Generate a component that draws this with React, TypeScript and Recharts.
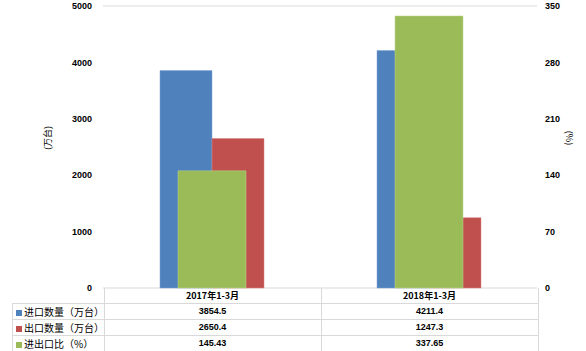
import React from "react";
import {
  ComposedChart,
  Bar,
  XAxis,
  YAxis,
  CartesianGrid,
} from "recharts";

const periods: string[] = ["2017年1-3月", "2018年1-3月"];
const importQty: number[] = [3854.5, 4211.4];
const exportQty: number[] = [2650.4, 1247.3];
const ratio: number[] = [145.43, 337.65];

const leftTicks: number[] = [0, 1000, 2000, 3000, 4000, 5000];
const rightTicks: number[] = [0, 70, 140, 210, 280, 350];

const seriesNames: string[] = ["进口数量（万台）", "出口数量（万台）", "进出口比（%）"];
const seriesColors: string[] = ["#4F81BD", "#C0504D", "#9BBB59"];
const seriesValues: number[][] = [importQty, exportQty, ratio];

const data = periods.map((p, i) => ({
  period: p,
  imp: importQty[i],
  exp: exportQty[i],
  ratio: ratio[i],
}));

const numFont = "'Liberation Sans', Arial, 'Noto Sans CJK SC', sans-serif";
const cjkFont = "'Noto Sans CJK SC', 'Liberation Sans', sans-serif";
const border = "1px solid #d9d9d9";

const tickStyle = { fontSize: 9, fontWeight: 700, fill: "#000", fontFamily: numFont };

const DataTable = () => {
  const cell: React.CSSProperties = {
    border,
    padding: 0,
    height: 15,
    lineHeight: "15px",
    textAlign: "center",
    fontSize: 9,
    fontWeight: 700,
    fontFamily: numFont,
    color: "#000",
    width: 216,
    overflow: "hidden",
  };
  return (
    <table
      style={{
        position: "absolute",
        left: 12,
        top: 288,
        borderCollapse: "collapse",
        tableLayout: "fixed",
        width: 525,
      }}
    >
      <tbody>
        <tr>
          <td style={{ width: 91, padding: 0, height: 15 }} />
          {periods.map((p) => (
            <td key={p} style={{ ...cell, borderTop: "none", fontFamily: cjkFont }}>
              {p}
            </td>
          ))}
        </tr>
        {seriesNames.map((name, r) => (
          <tr key={name}>
            <td
              style={{
                ...cell,
                width: 91,
                textAlign: "left",
                fontWeight: 400,
                fontSize: 10,
                fontFamily: cjkFont,
                whiteSpace: "nowrap",
                paddingLeft: 3,
              }}
            >
              <span
                style={{
                  display: "inline-block",
                  width: 6,
                  height: 6,
                  background: seriesColors[r],
                  marginRight: 2,
                  verticalAlign: "middle",
                }}
              />
              {name}
            </td>
            {seriesValues[r].map((v, c) => (
              <td key={c} style={cell}>
                {v}
              </td>
            ))}
          </tr>
        ))}
      </tbody>
    </table>
  );
};

export default function App() {
  return (
    <div
      style={{
        position: "absolute",
        left: 0,
        top: 0,
        width: 586,
        height: 351,
        background: "#fff",
        overflow: "hidden",
      }}
    >
      <ComposedChart
        width={586}
        height={306}
        data={data}
        margin={{ top: 6, right: 0, bottom: 18, left: 0 }}
        barGap={0}
      >
        <CartesianGrid vertical={false} stroke="#d9d9d9" />
        <XAxis xAxisId="a" dataKey="period" hide />
        <XAxis xAxisId="b" dataKey="period" hide />
        <YAxis
          yAxisId="left"
          orientation="left"
          width={103}
          domain={[0, 5000]}
          ticks={leftTicks}
          axisLine={false}
          tickLine={false}
          tickSize={0}
          tickMargin={11}
          tick={tickStyle}
          label={{
            value: "(万台)",
            angle: -90,
            position: "center",
            dx: -4,
            dy: -9,
            style: { fontSize: 9, fontFamily: cjkFont, fill: "#000" },
          }}
        />
        <YAxis
          yAxisId="right"
          orientation="right"
          width={49}
          domain={[0, 350]}
          ticks={rightTicks}
          axisLine={false}
          tickLine={false}
          tickSize={0}
          tickMargin={8}
          tick={{ ...tickStyle, textAnchor: "start" }}
          label={{
            value: "(%)",
            angle: 90,
            position: "center",
            dx: 8,
            dy: -9,
            style: { fontSize: 9, fontFamily: cjkFont, fill: "#000" },
          }}
        />
        <Bar
          xAxisId="a"
          yAxisId="left"
          dataKey="imp"
          fill={seriesColors[0]}
          stroke="#7fa3d4"
          strokeWidth={0.5}
          barSize={52}
          isAnimationActive={false}
        />
        <Bar
          xAxisId="a"
          yAxisId="left"
          dataKey="exp"
          fill={seriesColors[1]}
          stroke="#d88583"
          strokeWidth={0.5}
          barSize={52}
          isAnimationActive={false}
        />
        <Bar
          xAxisId="b"
          yAxisId="right"
          dataKey="ratio"
          fill={seriesColors[2]}
          stroke="#bcd48e"
          strokeWidth={0.5}
          barSize={68}
          isAnimationActive={false}
        />
      </ComposedChart>
      <DataTable />
    </div>
  );
}
